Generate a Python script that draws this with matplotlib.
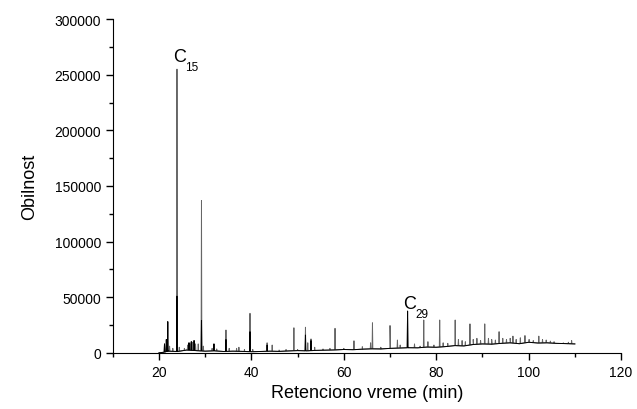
import numpy as np
from matplotlib import pyplot as plt

plt.rcParams['font.family'] = ['Liberation Sans', 'DejaVu Sans']
plt.rcParams['mathtext.default'] = 'regular'

# baseline of the chromatogram (min, abundance)
base_t = [20, 21, 22, 24, 26, 28, 30, 32, 34, 36, 38, 40, 42, 44, 46, 48, 50, 52, 54, 56,
          58, 60, 62, 64, 66, 68, 70, 72, 74, 76, 78, 80, 82, 84, 86, 88, 90, 92, 94, 96,
          98, 100, 102, 104, 106, 108, 110]
base_y = [0, 500, 1500, 1200, 2500, 2000, 1500, 1800, 1200, 1500, 1300, 1000, 1200, 1500,
          1300, 1700, 2000, 1800, 2200, 2400, 2600, 3000, 2800, 3300, 3600, 3500, 4000, 4300,
          4600, 4500, 5200, 5000, 5600, 6500, 6200, 7500, 8000, 7800, 8500, 9000, 8200, 9500,
          8800, 9000, 8500, 8300, 8000]

# peaks of the full trace (retention time, apex abundance)
peak_t = [21.2, 21.6, 21.9, 22.3, 23.0, 23.9, 24.4, 25.5, 26.2, 26.5, 26.8, 27.0, 27.3,
          27.6, 27.9, 28.5, 29.2, 29.6, 31.5, 31.9, 32.5, 34.5, 35.2, 36.8, 37.3, 38.5,
          39.7, 40.3, 43.4, 44.5, 46.0, 47.5, 49.2, 50.0, 51.7, 52.2, 52.9, 53.7, 55.5,
          57.0, 58.1, 60.0, 62.2, 64.0, 65.8, 66.2, 68.0, 70.0, 71.6, 72.2, 73.8, 75.3,
          76.5, 77.3, 78.2, 79.5, 80.75, 81.5, 82.5, 84.1, 84.8, 85.6, 86.3, 87.3, 88.0,
          88.8, 89.6, 90.5, 91.3, 92.0, 92.8, 93.6, 94.4, 95.2, 96.0, 96.6, 97.3, 98.2,
          99.2, 100.1, 101.0, 102.2, 103.0, 103.8, 104.7, 105.5, 107.5, 108.6, 109.3]
peak_h = [8000, 12000, 28000, 6000, 4000, 255000, 5000, 4000, 7000, 9000, 8000, 10000, 9500,
          11000, 8000, 8000, 137000, 6000, 4000, 8000, 3500, 20500, 4000, 4000, 5000, 3000,
          35500, 3000, 9000, 7000, 2500, 3000, 22500, 3000, 23000, 9000, 12500, 5000, 3500,
          4000, 22000, 4000, 10800, 5500, 9000, 27000, 5000, 24500, 11500, 7000, 37500, 8000,
          6000, 29500, 10000, 7000, 29500, 9000, 8500, 29500, 12000, 11000, 10000, 26000, 12000,
          13000, 11000, 26000, 13000, 12000, 11500, 19000, 13000, 12000, 13000, 15000, 12000, 13500,
          15500, 12000, 11000, 15000, 12000, 11500, 10500, 10000, 9000, 9500, 11000]

# overlaid darker trace: lower apexes of the main peaks
dark_t = [21.2, 21.6, 21.9, 23.9, 26.5, 27.0, 27.6, 29.2, 31.9, 34.5, 39.7, 43.4, 51.7, 52.9, 73.8]
dark_h = [8000, 12000, 28000, 51000, 9000, 10000, 11000, 29000, 8000, 12000, 19000, 7000, 16000, 11000, 37500]


def trace(pk_t, pk_h):
    pts = list(zip(base_t, base_y))
    for t, h in zip(pk_t, pk_h):
        b = np.interp(t, base_t, base_y)
        pts += [(t - 0.08, b), (t, h), (t + 0.08, b)]
    pts.sort()
    return [p[0] for p in pts], [p[1] for p in pts]


fig = plt.figure(figsize=(6.37, 4.10), dpi=100)
ax = fig.add_axes([0.177, 0.137, 0.798, 0.814])
x, y = trace(peak_t, peak_h)
ax.plot(x, y, color='#666666', lw=0.7)
x, y = trace(dark_t, dark_h)
ax.plot(x, y, color='black', lw=0.7)

ax.set_xlim(10, 120)
ax.set_ylim(0, 300000)
ax.set_xticks(range(20, 121, 20))
ax.set_xticks(range(10, 121, 10), minor=True)
ax.set_yticks(range(0, 300001, 50000))
ax.set_yticks(range(0, 300001, 25000), minor=True)
ax.tick_params(which='major', direction='out', length=5, width=1, labelsize=10)
ax.tick_params(which='minor', direction='out', length=3, width=1)
for s in ['top', 'right']:
    ax.spines[s].set_visible(False)

ax.set_xlabel('Retenciono vreme (min)', fontsize=13)
ax.set_ylabel('Obilnost', fontsize=13, labelpad=12)

# peak labels, subscript set a little lower than the letter
ax.text(23.0, 258500, 'C', fontsize=13, ha='left', va='bottom')
ax.text(25.6, 251500, '15', fontsize=8.5, ha='left', va='bottom')
ax.text(72.8, 36500, 'C', fontsize=13, ha='left', va='bottom')
ax.text(75.4, 29500, '29', fontsize=8.5, ha='left', va='bottom')

fig.savefig('out.png', dpi=100)
